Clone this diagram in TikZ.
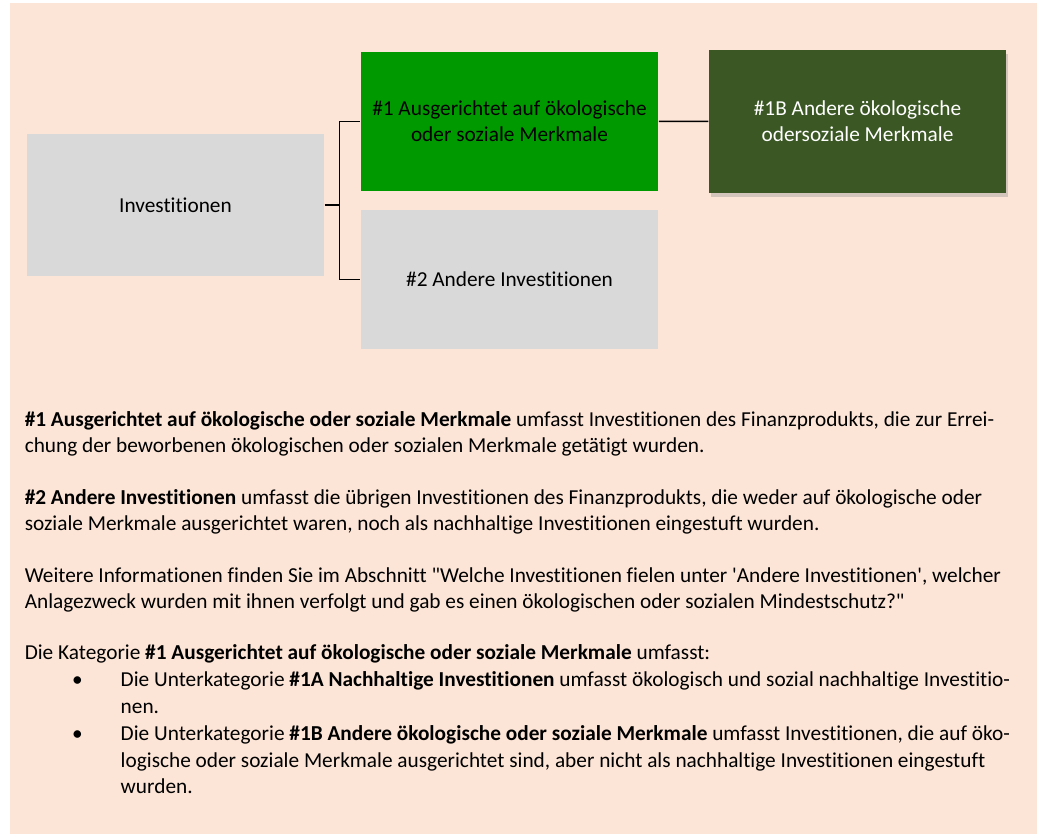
\documentclass[tikz,border=0pt]{standalone}
\usepackage{fontspec}
\setmainfont{Carlito}[Ligatures={NoCommon}]
\usepackage{xcolor}
\usepackage{tikz}
\usetikzlibrary{shadows}
\definecolor{peach}{HTML}{FCE4D6}
\definecolor{grau}{HTML}{D9D9D9}
\definecolor{gruen}{HTML}{009900}
\definecolor{dunkel}{HTML}{3A5724}
\tikzset{every node/.style={inner sep=0pt,font=\fontsize{21.3}{26}\selectfont},
  box/.style={fill=grau,minimum width=297pt,minimum height=142pt,align=center},
  txt/.style={anchor=north west,align=left}}
\def\vb#1#2{\draw (#1.east) -- ++(14.7,0) |- (#2.west);}
\newcommand{\kasten}[4][]{\node[box,#1] (#2) at (#3) {#4};}
\newcommand{\pkt}{\hspace*{52.7pt}\makebox[0pt]{\textbullet}\hspace*{43.3pt}}
\newcommand{\ein}{\hspace*{96pt}}

\begin{document}
\begin{tikzpicture}[x=1pt,y=-1pt,line width=1.5pt]
    \useasboundingbox (0,0) rectangle (1037,834);
    \fill[peach] (10,3) rectangle (1037,834);

    \kasten{inv}{175.5,205}{Investitionen}
    \kasten[fill=gruen,minimum height=138.5pt]{ausg}{509.5,121.3}{\#1 Ausgerichtet auf ökologische\\oder soziale Merkmale}
    \kasten[minimum height=139pt]{andere}{509.5,279.5}{\#2 Andere Investitionen}
    \kasten[fill=dunkel,text=white,minimum height=143pt,
      drop shadow={shadow xshift=2pt,shadow yshift=-4pt,fill=black!45,opacity=.35}]{merk}{857.5,121.5}{\#1B Andere ökologische\\odersoziale Merkmale}
    \vb{inv}{ausg} \vb{inv}{andere}
    \draw (ausg) -- (merk);

    \node[txt] (p1) at (24,407.5) {\strut\textbf{\#1 Ausgerichtet auf ökologische oder soziale Merkmale} umfasst Investitionen des Finanzprodukts, die zur Errei-\\chung der beworbenen ökologischen oder sozialen Merkmale getätigt wurden.};
    \node[txt] (p2) at (24,485.5) {\strut\textbf{\#2 Andere Investitionen} umfasst die übrigen Investitionen des Finanzprodukts, die weder auf ökologische oder\\soziale Merkmale ausgerichtet waren, noch als nachhaltige Investitionen eingestuft wurden.};
    \node[txt] (p3) at (24,563.5) {\strut Weitere Informationen finden Sie im Abschnitt \textquotedbl Welche Investitionen fielen unter \textquotesingle Andere Investitionen\textquotesingle, welcher\\Anlagezweck wurden mit ihnen verfolgt und gab es einen ökologischen oder sozialen Mindestschutz?\textquotedbl};
    \node[txt,font=\fontsize{21.3}{26.8}\selectfont] (p4) at (24,640.3) {\strut Die Kategorie \textbf{\#1 Ausgerichtet auf ökologische oder soziale Merkmale} umfasst:\\
      \pkt Die Unterkategorie \textbf{\#1A Nachhaltige Investitionen} umfasst ökologisch und sozial nachhaltige Investitio-\\
      \ein nen.\\
      \pkt Die Unterkategorie \textbf{\#1B Andere ökologische oder soziale Merkmale} umfasst Investitionen, die auf öko-\\
      \ein logische oder soziale Merkmale ausgerichtet sind, aber nicht als nachhaltige Investitionen eingestuft\\
      \ein wurden.};
\end{tikzpicture}
\end{document}
